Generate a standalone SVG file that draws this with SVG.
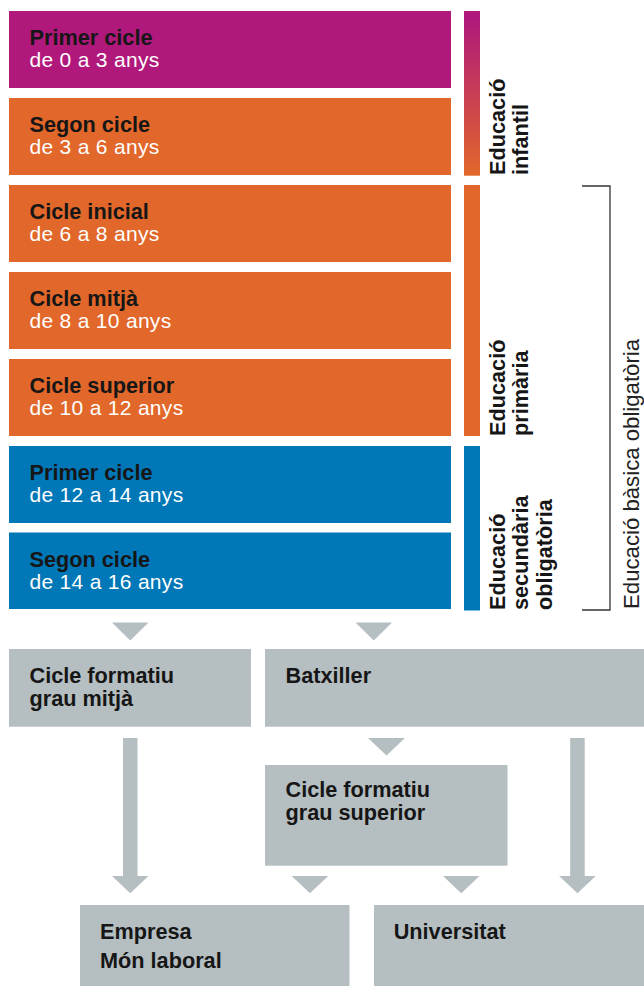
<svg xmlns="http://www.w3.org/2000/svg" width="644" height="986" viewBox="0 0 644 986">
<style>
  .mag { fill: #b0197b; }
  .ora { fill: #e2672a; }
  .blu { fill: #0077b6; }
  .gry { fill: #b5bec1; }
  .t { font-family: "Liberation Sans", Arial, sans-serif; font-size: 21.7px; font-weight: bold; fill: #161616; }
  .s { font-family: "Liberation Sans", Arial, sans-serif; font-size: 21px; fill: #ffffff; letter-spacing: 0.3px; }
  .v { font-family: "Liberation Sans", Arial, sans-serif; font-size: 21.7px; font-weight: bold; fill: #161616; }
  .r { font-family: "Liberation Sans", Arial, sans-serif; font-size: 22.2px; fill: #222222; }
  .br { fill: none; stroke: #333333; stroke-width: 1.3; }
</style>
<defs>
  <linearGradient id="gInf" x1="0" y1="0" x2="0" y2="1">
    <stop offset="0.05" stop-color="#b0197b"/>
    <stop offset="1" stop-color="#e2672a"/>
  </linearGradient>
</defs>
<rect width="644" height="986" fill="#ffffff"/>

<g id="infantil-primer">
  <rect class="mag" x="9" y="11" width="442" height="77"/>
  <text class="t" x="29.5" y="45">Primer cicle</text>
  <text class="s" x="29.5" y="67">de 0 a 3 anys</text>
</g>
<g id="infantil-segon">
  <rect class="ora" x="9" y="98" width="442" height="77"/>
  <text class="t" x="29.5" y="132">Segon cicle</text>
  <text class="s" x="29.5" y="154">de 3 a 6 anys</text>
</g>
<g id="primaria-inicial">
  <rect class="ora" x="9" y="185" width="442" height="77"/>
  <text class="t" x="29.5" y="219">Cicle inicial</text>
  <text class="s" x="29.5" y="241">de 6 a 8 anys</text>
</g>
<g id="primaria-mitja">
  <rect class="ora" x="9" y="272" width="442" height="77"/>
  <text class="t" x="29.5" y="306">Cicle mitjà</text>
  <text class="s" x="29.5" y="328">de 8 a 10 anys</text>
</g>
<g id="primaria-superior">
  <rect class="ora" x="9" y="359" width="442" height="77"/>
  <text class="t" x="29.5" y="393">Cicle superior</text>
  <text class="s" x="29.5" y="415">de 10 a 12 anys</text>
</g>
<g id="eso-primer">
  <rect class="blu" x="9" y="446" width="442" height="77"/>
  <text class="t" x="29.5" y="480">Primer cicle</text>
  <text class="s" x="29.5" y="502">de 12 a 14 anys</text>
</g>
<g id="eso-segon">
  <rect class="blu" x="9" y="532.5" width="442" height="76.5"/>
  <text class="t" x="29.5" y="566.5">Segon cicle</text>
  <text class="s" x="29.5" y="588.5">de 14 a 16 anys</text>
</g>

<g id="label-infantil">
  <rect x="464" y="11" width="16" height="164.7" fill="url(#gInf)"/>
  <text class="v" transform="translate(504.5,175) rotate(-90)"><tspan x="0" y="0">Educació</tspan><tspan x="0" y="23.5">infantil</tspan></text>
</g>
<g id="label-primaria">
  <rect class="ora" x="464" y="185" width="16" height="251"/>
  <text class="v" transform="translate(504.5,436) rotate(-90)"><tspan x="0" y="0">Educació</tspan><tspan x="0" y="23.5">primària</tspan></text>
</g>
<g id="label-eso">
  <rect class="blu" x="464" y="446" width="16" height="164.5"/>
  <text class="v" transform="translate(504.5,610) rotate(-90)"><tspan x="0" y="0">Educació</tspan><tspan x="0" y="23.5">secundària</tspan><tspan x="0" y="47">obligatòria</tspan></text>
</g>
<g id="label-basica">
  <path class="br" d="M582,186 H610 V610 H582"/>
  <text class="r" transform="translate(639,609) rotate(-90)">Educació bàsica obligatòria</text>
</g>

<g id="connectors" class="gry">
  <polygon points="112,622.5 148.5,622.5 130.25,640.5"/>
  <polygon points="355.5,622.5 392,622.5 373.75,640.5"/>
  <rect x="123" y="738" width="14.5" height="138.5"/>
  <polygon points="112,876 148.5,876 130.25,893.3"/>
  <polygon points="368,738 405,738 386.5,755.5"/>
  <polygon points="291.7,876 328.2,876 309.95,893.3"/>
  <polygon points="443,876 479.5,876 461.25,893.3"/>
  <rect x="570.2" y="738" width="14.5" height="138.5"/>
  <polygon points="559.2,876 595.7,876 577.45,893.3"/>
</g>

<g id="cf-grau-mitja">
  <rect class="gry" x="9" y="649" width="242" height="77.7"/>
  <text class="t" x="29.5" y="682.7">Cicle formatiu</text>
  <text class="t" x="29.5" y="705.7">grau mitjà</text>
</g>
<g id="batxiller">
  <rect class="gry" x="265" y="649" width="379" height="77.7"/>
  <text class="t" x="285.5" y="682.7">Batxiller</text>
</g>
<g id="cf-grau-superior">
  <rect class="gry" x="265" y="765" width="242.5" height="100.7"/>
  <text class="t" x="285.5" y="797.3">Cicle formatiu</text>
  <text class="t" x="285.5" y="820.3">grau superior</text>
</g>
<g id="empresa">
  <rect class="gry" x="80" y="905" width="269.5" height="81"/>
  <text class="t" x="100" y="939">Empresa</text>
  <text class="t" x="100" y="968.3">Món laboral</text>
</g>
<g id="universitat">
  <rect class="gry" x="374" y="905" width="270" height="81"/>
  <text class="t" x="393.7" y="939">Universitat</text>
</g>
</svg>
